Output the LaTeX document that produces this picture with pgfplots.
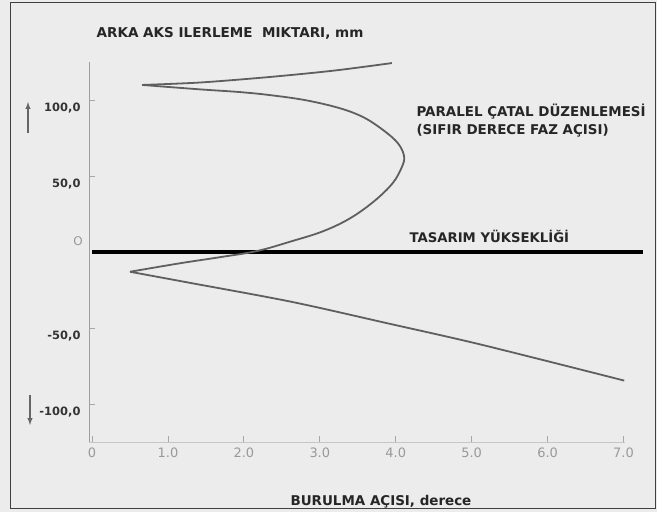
\documentclass[border=0pt]{standalone}
\usepackage{pgfplots}
\pgfplotsset{compat=1.18}
\usepackage{fontspec}
\setmainfont{DejaVu Sans}
\definecolor{bg}{RGB}{236,236,236}
\definecolor{curve}{RGB}{95,95,95}
\begin{document}
\begin{tikzpicture}
\fill[bg] (0,0) rectangle (657bp,512bp);
\draw[black!75, line width=1bp] (10bp,3bp) rectangle (655bp,509bp);
\begin{axis}[
  at={(89bp,70bp)}, anchor=south west,
  scale only axis, width=536bp, height=380bp,
  xmin=-0.04, xmax=7.02, ymin=-125, ymax=125,
  axis x line=bottom, axis y line=left,
  axis line style={-, gray!75, line width=0.8bp},
  x axis line style={gray!45},
  tick align=inside, major tick length=6bp,
  tick style={gray!70, line width=0.8bp},
  xtick={0,1,2,3,4,5,6,7},
  xticklabels={0,1.0,2.0,3.0,4.0,5.0,6.0,7.0},
  ytick={-100,-50,50,100},
  yticklabels={{-100,0},{-50,0},{50,0},{100,0}},
  /pgf/number format/assume math mode=true,
  xticklabel style={font=\fontsize{13}{15}\selectfont, text=gray!80, yshift=-2bp},
  yticklabel style={font=\fontsize{11.5}{13}\selectfont\bfseries, text=black!80, yshift=-8bp, xshift=-5bp},
  clip=false,
]
\addplot[black, line width=3.2bp] coordinates {(0,0) (7.26,0)};
\addplot[curve, line width=1.8bp, smooth, tension=0.5] coordinates {
(3.95,124.3) (3.18,119.3) (2.31,115.0) (1.42,111.5) (0.66,109.9)};
\addplot[curve, line width=1.8bp, smooth, tension=0.6] coordinates {
(0.66,109.9) (1.42,107.0) (1.95,105.2) (2.38,103.0) (2.83,99.7) (3.27,94.5) (3.58,88.5) (3.84,80.0) (4.03,71.5) (4.11,63.0) (4.08,55.8) (3.96,45.3) (3.72,33.6) (3.40,22.2) (3.04,13.6) (2.61,6.8) (2.17,0.6) (1.66,-3.6) (1.16,-7.4) (0.50,-13)};
\addplot[curve, line width=1.8bp, smooth, tension=0.5] coordinates {
(0.50,-13) (1.29,-20.3) (2.63,-32.8) (3.9,-47) (5.13,-61) (7.01,-84.6)};
\end{axis}
\node[anchor=base, font=\fontsize{13.6}{16}\selectfont\bfseries, text=black!85] at (230bp,474bp) {ARKA AKS ILERLEME\ \ MIKTARI, mm};
\node[anchor=base west, font=\fontsize{13.5}{16}\selectfont\bfseries, text=black!85] at (287bp,7bp) {BURULMA AÇISI, derece};
\node[anchor=base west, font=\fontsize{13.5}{16}\selectfont\bfseries, text=black!85] at (413bp,395bp) {PARALEL ÇATAL DÜZENLEMESİ};
\node[anchor=base west, font=\fontsize{13.5}{16}\selectfont\bfseries, text=black!85] at (413bp,377bp) {(SIFIR DERECE FAZ AÇISI)};
\node[anchor=base west, font=\fontsize{13.3}{16}\selectfont\bfseries, text=black!85] at (406bp,269bp) {TASARIM YÜKSEKLİĞİ};
\node[font=\fontsize{12}{14}\selectfont, text=gray!80] at (78bp,271bp) {O};
\draw[gray!80!black, line width=1.4bp, -latex] (28bp,379bp) -- (28bp,410bp);
\draw[gray!80!black, line width=1.4bp, -latex] (30bp,117bp) -- (30bp,87bp);
\end{tikzpicture}
\end{document}
